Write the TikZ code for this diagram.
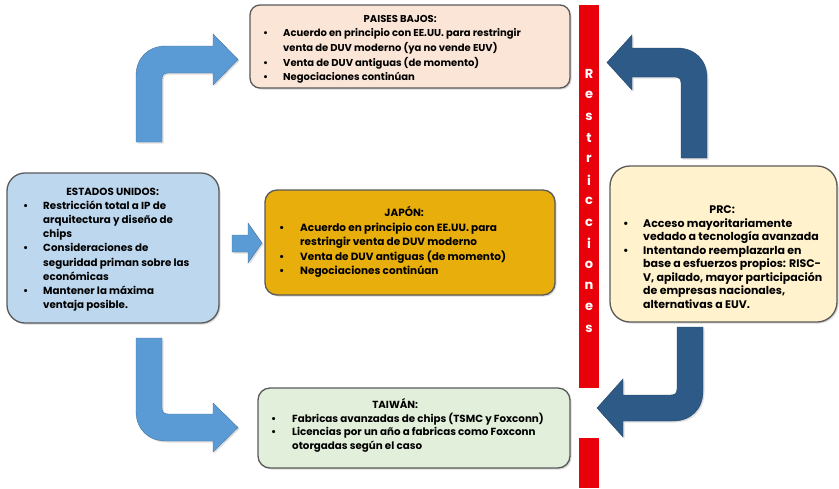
\documentclass[tikz,border=0pt]{standalone}
\usepackage{fontspec}
\setmainfont{Poppins}
\usetikzlibrary{shadows}
\definecolor{pbfill}{HTML}{FBE5D6}
\definecolor{usfill}{HTML}{BDD7EE}
\definecolor{jpfill}{HTML}{E8AE0C}
\definecolor{twfill}{HTML}{E2EFDA}
\definecolor{prcfill}{HTML}{FFF2CC}
\definecolor{boxline}{HTML}{5A5A5A}
\definecolor{barred}{HTML}{E8000A}
\definecolor{arrlight}{HTML}{5B9BD5}
\definecolor{arrdark}{HTML}{2E5A88}
\newcommand{\btitle}[2]{\multicolumn{2}{@{}l@{}}{\makebox[#1][c]{#2}}}
\begin{document}
\begin{tikzpicture}[x=1pt,y=-1pt,
  box/.style={draw=boxline, line width=1.3pt, inner sep=0pt,
    drop shadow={shadow xshift=1.5pt, shadow yshift=-1.5pt, opacity=0.3}},
  bodytext/.style={anchor=base west, inner sep=0pt, font=\bfseries},
  lightarrow/.style={fill=arrlight, draw=arrlight!75!black, line width=0.4pt,
    drop shadow={shadow xshift=1.5pt, shadow yshift=-1.5pt, opacity=0.25}},
  darkarrow/.style={fill=arrdark, draw=arrdark!75!black, line width=0.4pt,
    drop shadow={shadow xshift=1.5pt, shadow yshift=-1.5pt, opacity=0.25}},
  barstyle/.style={fill=barred, draw=none, inner sep=0pt},
  barletter/.style={text=white, font=\bfseries\fontsize{13}{13}\selectfont, inner sep=0pt}]
\useasboundingbox[fill=white] (0,0) rectangle (839,488);

% red bar
\node[barstyle, minimum width=20pt, minimum height=383pt] (bar1) at (589,196.5) {};
\node[barstyle, minimum width=20pt, minimum height=50pt] (bar2) at (589,463) {};
\foreach \c [count=\i from 0] in {R,e,s,t,r,i,c,c,i,o,n,e,s}
  \node[barletter] (letter\i) at (589,{74+21.2*\i}) {\c};

% arrows
\path[lightarrow] (136,142) -- (136,76) .. controls (136,58) and (148,46) .. (166,46) -- (213,46) -- (213,34) -- (238,59.5) -- (213,85) -- (213,73) -- (168,73) .. controls (164,73) and (162,75) .. (162,79) -- (162,142) -- cycle;
\path[darkarrow] (707,158) -- (707,78) .. controls (707,60) and (695,48) .. (677,48) -- (632,48) -- (632,35) -- (607,62.5) -- (632,90) -- (632,77) -- (675,77) .. controls (679,77) and (681,79) .. (681,83) -- (681,158) -- cycle;
\path[lightarrow] (136,338) -- (136,411) .. controls (136,429) and (148,441) .. (166,441) -- (213,441) -- (213,452) -- (238,427.5) -- (213,403) -- (213,414) -- (168,414) .. controls (164,414) and (162,412) .. (162,408) -- (162,338) -- cycle;
\path[darkarrow] (703,327) -- (703,391) .. controls (703,409) and (691,421) .. (673,421) -- (623,421) -- (623,437) -- (597,408) -- (623,379) -- (623,395) -- (671,395) .. controls (675,395) and (677,393) .. (677,389) -- (677,327) -- cycle;
\path[lightarrow] (232,235) -- (248,235) -- (248,223) -- (262,243) -- (248,263) -- (248,252) -- (232,252) -- cycle;

% boxes
\node[box, fill=pbfill, rounded corners=10pt, minimum width=320pt, minimum height=83pt] (pb) at (410,46.5) {};
\node[box, fill=usfill, rounded corners=18pt, minimum width=212pt, minimum height=150pt] (us) at (113,248) {};
\node[box, fill=jpfill, rounded corners=12pt, minimum width=290pt, minimum height=105pt] (jp) at (410,242.5) {};
\node[box, fill=twfill, rounded corners=12pt, minimum width=312pt, minimum height=80pt] (tw) at (414,428) {};
\node[box, fill=prcfill, rounded corners=20pt, minimum width=227pt, minimum height=156pt] (prc) at (723.5,244) {};

% texts
\node[bodytext] (pbtext) at (263,22) {\fontsize{10}{14.7}\selectfont
\begin{tabular}[t]{@{}p{20pt}@{}l@{}}
\btitle{274pt}{PAISES BAJOS:}\\
\textbullet & Acuerdo en principio con EE.UU. para restringir\\
 & venta de DUV moderno (ya no vende EUV)\\
\textbullet & Venta de DUV antiguas (de momento)\\
\textbullet & Negociaciones continúan
\end{tabular}};

\node[bodytext] (ustext) at (23,195.5) {\fontsize{10.3}{14.1}\selectfont
\begin{tabular}[t]{@{}p{20pt}@{}l@{}}
\btitle{179pt}{ESTADOS UNIDOS:}\\
\textbullet & Restricción total a IP de\\
 & arquitectura y diseño de\\
 & chips\\
\textbullet & Consideraciones de\\
 & seguridad priman sobre las\\
 & económicas\\
\textbullet & Mantener la máxima\\
 & ventaja posible.
\end{tabular}};

\node[bodytext] (jptext) at (279,216.5) {\fontsize{10.5}{14.5}\selectfont
\begin{tabular}[t]{@{}p{21pt}@{}l@{}}
\btitle{250pt}{JAPÓN:}\\
\textbullet & Acuerdo en principio con EE.UU. para\\
 & restringir venta de DUV moderno\\
\textbullet & Venta de DUV antiguas (de momento)\\
\textbullet & Negociaciones continúan
\end{tabular}};

\node[bodytext] (twtext) at (271,408.5) {\fontsize{10.3}{13.5}\selectfont
\begin{tabular}[t]{@{}p{21pt}@{}l@{}}
\btitle{248pt}{TAIWÁN:}\\
\textbullet & Fabricas avanzadas de chips (TSMC y Foxconn)\\
\textbullet & Licencias por un año a fabricas como Foxconn\\
 & otorgadas según el caso
\end{tabular}};

\node[bodytext] (prctext) at (623,213.5) {\fontsize{11}{13.5}\selectfont
\begin{tabular}[t]{@{}p{20pt}@{}l@{}}
\btitle{198pt}{PRC:}\\
\textbullet & Acceso mayoritariamente\\
 & vedado a tecnología avanzada\\
\textbullet & Intentando reemplazarla en\\
 & base a esfuerzos propios: RISC-\\
 & V, apilado, mayor participación\\
 & de empresas nacionales,\\
 & alternativas a EUV.
\end{tabular}};
\end{tikzpicture}
\end{document}
